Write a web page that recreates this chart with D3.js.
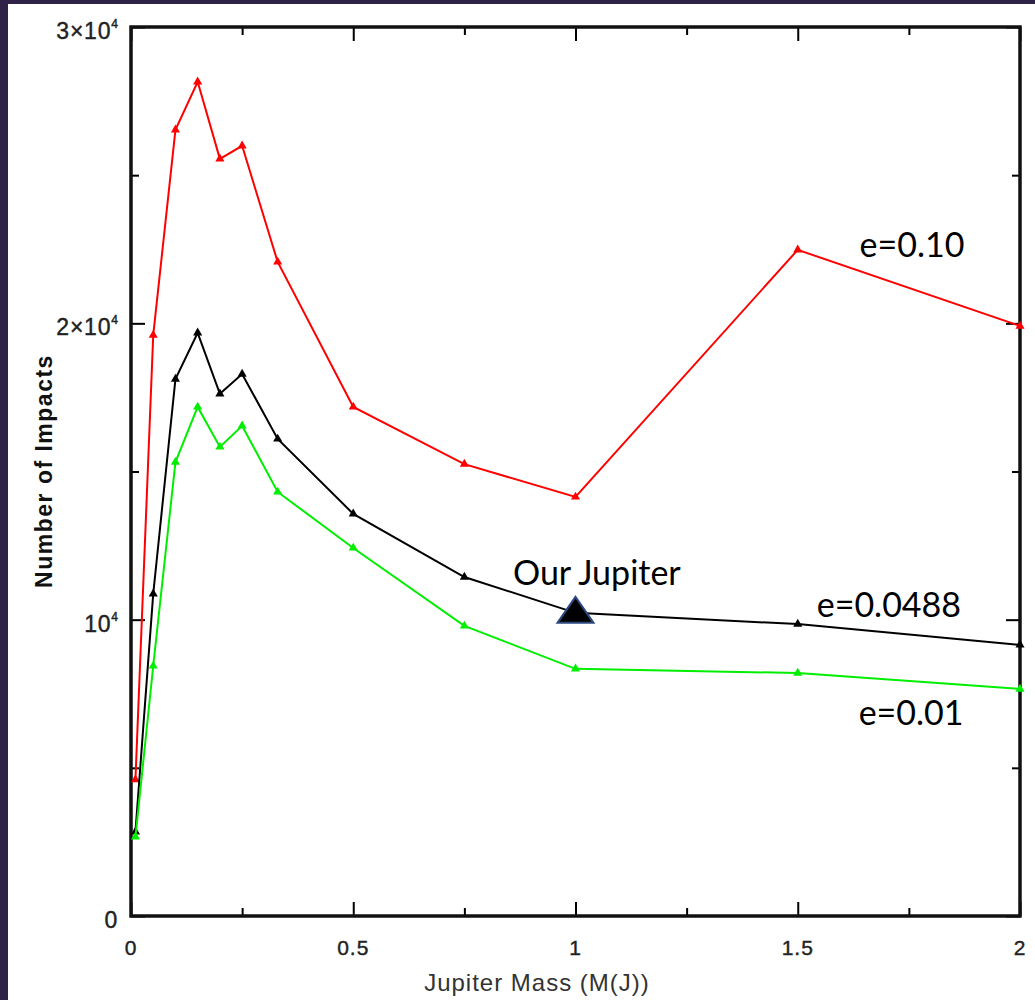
<!DOCTYPE html>
<html>
<head>
<meta charset="utf-8">
<script src="https://cdn.jsdelivr.net/npm/d3@7"></script>
<style>
    html, body { margin: 0; padding: 0; background: #2e2247; }
    svg { display: block; }
</style>
</head>
<body>
<svg id="chart"></svg>
<script>
// Jupiter mass (M_J) at which each run was made
var MASSES = [0.01, 0.05, 0.1, 0.15, 0.2, 0.25, 0.33, 0.5, 0.75, 1, 1.5, 2];

// number of impacts for each eccentricity
var IMPACTS_E010 = [4600, 19600, 26530, 28150, 25550, 25990, 22070, 17180, 15250, 14140, 22480, 19910];
var IMPACTS_E0488 = [2840, 10870, 18120, 19680, 17620, 18290, 16100, 13570, 11440, 10230, 9850, 9150];
var IMPACTS_E001 = [2670, 8440, 15320, 17180, 15830, 16540, 14310, 12420, 9790, 8340, 8200, 7660];

var SERIES_NAMES = ['e=0.10', 'e=0.0488', 'e=0.01'];
var SERIES_COLORS = ['#ff0000', '#000000', '#00ee00'];

var X_MAJOR = [0, 0.5, 1, 1.5, 2];
var X_MINOR = [0.25, 0.75, 1.25, 1.75];
var X_LABELS = ['0', '0.5', '1', '1.5', '2'];
var Y_MAJOR = [0, 10000, 20000, 30000];
var Y_MINOR = [5000, 15000, 25000];
var Y_LABELS = [['0', ''], ['10', '4'], ['2\u00d710', '4'], ['3\u00d710', '4']];

var OUR_JUPITER_MASS = 1;

(function () {
    var WIDTH = 1035,
        HEIGHT = 1000,
        PLOT = { left: 131, right: 1020, top: 27, bottom: 916 },
        AXIS_FONT = 'Liberation Sans, Arial, sans-serif';

    var svg = d3.select('#chart').attr('width', WIDTH).attr('height', HEIGHT);

    svg.append('rect').attr('width', WIDTH).attr('height', HEIGHT).attr('fill', '#2e2247');
    svg.append('rect')
        .attr('x', 8).attr('y', 4)
        .attr('width', WIDTH - 8).attr('height', HEIGHT - 4)
        .attr('fill', '#ffffff');

    var x = d3.scaleLinear().domain([0, 2]).range([PLOT.left, PLOT.right]);
    var y = d3.scaleLinear().domain([0, 30000]).range([PLOT.bottom, PLOT.top]);

    function drawTicks(axis, values, size, translate) {
        var g = svg.append('g')
            .attr('transform', translate)
            .call(axis.tickValues(values).tickSize(size).tickFormat(''));
        g.select('.domain').remove();
        g.selectAll('line').attr('stroke', '#000').attr('stroke-width', 2);
        return g;
    }

    // ticks point inward on all four sides
    drawTicks(d3.axisBottom(x), X_MAJOR, -14, 'translate(0,' + PLOT.bottom + ')');
    drawTicks(d3.axisBottom(x), X_MINOR, -8, 'translate(0,' + PLOT.bottom + ')');
    drawTicks(d3.axisTop(x), X_MAJOR, -14, 'translate(0,' + PLOT.top + ')');
    drawTicks(d3.axisTop(x), X_MINOR, -8, 'translate(0,' + PLOT.top + ')');
    drawTicks(d3.axisLeft(y), Y_MAJOR, -14, 'translate(' + PLOT.left + ',0)');
    drawTicks(d3.axisLeft(y), Y_MINOR, -8, 'translate(' + PLOT.left + ',0)');
    drawTicks(d3.axisRight(y), Y_MAJOR, -14, 'translate(' + PLOT.right + ',0)');
    drawTicks(d3.axisRight(y), Y_MINOR, -8, 'translate(' + PLOT.right + ',0)');

    svg.append('rect')
        .attr('x', PLOT.left).attr('y', PLOT.top)
        .attr('width', PLOT.right - PLOT.left).attr('height', PLOT.bottom - PLOT.top)
        .attr('fill', 'none').attr('stroke', '#111').attr('stroke-width', 3.5);

    // tick labels
    svg.append('g').selectAll('text')
        .data(X_MAJOR)
        .join('text')
        .attr('x', function (d) { return x(d); })
        .attr('y', PLOT.bottom + 39)
        .attr('text-anchor', 'middle')
        .attr('font-family', AXIS_FONT)
        .attr('font-size', 21)
        .attr('letter-spacing', 1)
        .attr('fill', '#222')
        .attr('stroke', '#222').attr('stroke-width', 0.4)
        .text(function (d, i) { return X_LABELS[i]; });

    var yLabels = svg.append('g').selectAll('text')
        .data(Y_MAJOR)
        .join('text')
        .attr('x', PLOT.left - 13)
        .attr('y', function (d) { return y(d) + 12; })
        .attr('text-anchor', 'end')
        .attr('font-family', AXIS_FONT)
        .attr('font-size', 23)
        .attr('letter-spacing', 0.8)
        .attr('fill', '#222')
        .attr('stroke', '#222').attr('stroke-width', 0.4);
    yLabels.append('tspan').text(function (d, i) { return Y_LABELS[i][0]; });
    yLabels.append('tspan')
        .attr('dy', -11)
        .attr('font-size', 12)
        .attr('letter-spacing', 0)
        .text(function (d, i) { return Y_LABELS[i][1]; });

    // axis titles
    svg.append('text')
        .attr('x', 537).attr('y', 991)
        .attr('text-anchor', 'middle')
        .attr('font-family', AXIS_FONT)
        .attr('font-size', 24)
        .attr('letter-spacing', 1)
        .attr('fill', '#333')
        .text('Jupiter Mass (M(J))');

    svg.append('text')
        .attr('transform', 'translate(52,471) rotate(-90)')
        .attr('text-anchor', 'middle')
        .attr('font-family', AXIS_FONT)
        .attr('font-weight', 'bold')
        .attr('font-size', 23)
        .attr('letter-spacing', 1.5)
        .attr('fill', '#111')
        .text('Number of Impacts');

    // series
    var series = [IMPACTS_E010, IMPACTS_E0488, IMPACTS_E001].map(function (values, i) {
        return {
            name: SERIES_NAMES[i],
            color: SERIES_COLORS[i],
            points: MASSES.map(function (m, j) { return { m: m, v: values[j] }; })
        };
    });

    var line = d3.line()
        .x(function (d) { return x(d.m); })
        .y(function (d) { return y(d.v); });

    var marker = d3.symbol().type(d3.symbolTriangle).size(36);

    series.forEach(function (s) {
        svg.append('path')
            .datum(s.points)
            .attr('d', line)
            .attr('fill', 'none')
            .attr('stroke', s.color)
            .attr('stroke-width', 2);

        svg.append('g').selectAll('path')
            .data(s.points)
            .join('path')
            .attr('d', marker)
            .attr('transform', function (d) { return 'translate(' + x(d.m) + ',' + y(d.v) + ')'; })
            .attr('fill', s.color);
    });

    // series annotations, placed in data coordinates
    var annotations = [
        { text: SERIES_NAMES[0], m: 1.757, v: 22650 },
        { text: SERIES_NAMES[1], m: 1.705, v: 10500 },
        { text: SERIES_NAMES[2], m: 1.755, v: 6850 },
        { text: 'Our Jupiter', m: 1.048, v: 11570 }
    ];

    svg.append('g').selectAll('text')
        .data(annotations)
        .join('text')
        .attr('x', function (d) { return x(d.m); })
        .attr('y', function (d) { return y(d.v); })
        .attr('dy', '0.35em')
        .attr('text-anchor', 'middle')
        .attr('font-family', 'Lato, Carlito, sans-serif')
        .attr('font-size', 34)
        .attr('fill', '#000')
        .text(function (d) { return d.text; });

    // big marker for our Jupiter, sitting on the e=0.0488 curve
    var jIndex = MASSES.indexOf(OUR_JUPITER_MASS),
        jx = x(OUR_JUPITER_MASS),
        jy = y(IMPACTS_E0488[jIndex]);

    svg.append('path')
        .attr('d', 'M' + jx + ',' + (jy - 16) + 'L' + (jx + 18) + ',' + (jy + 10) + 'L' + (jx - 18) + ',' + (jy + 10) + 'Z')
        .attr('fill', '#000')
        .attr('stroke', '#2c4a80')
        .attr('stroke-width', 2)
        .attr('stroke-linejoin', 'miter');
})();
</script>
</body>
</html>
